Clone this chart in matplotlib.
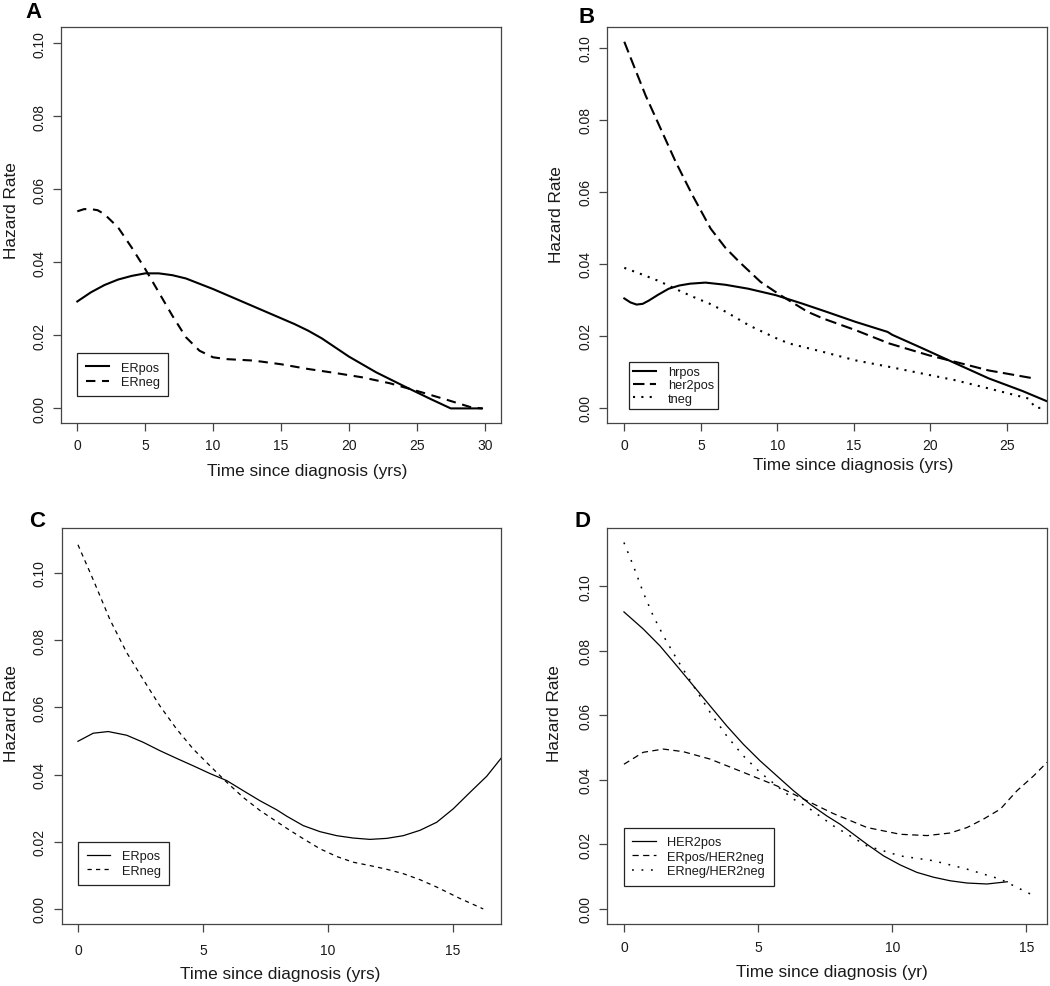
import numpy as np
import matplotlib
matplotlib.use("Agg")
import matplotlib.pyplot as plt

plt.rcParams['font.family'] = ['Liberation Sans', 'DejaVu Sans']

# ---- Panel A: ER status
a_erpos_t = [0, 1, 2, 3, 4, 5, 6, 7, 8, 10, 12, 14, 15, 16, 17, 18, 20, 22, 24, 25, 26, 27.5, 29.8]
a_erpos_h = [0.0293, 0.0318, 0.0338, 0.0353, 0.0363, 0.0370, 0.0370, 0.0365, 0.0356, 0.0327, 0.0295,
             0.0263, 0.0247, 0.0231, 0.0213, 0.0192, 0.0142, 0.0099, 0.0062, 0.0044, 0.0026, 0.0, 0.0]
a_erneg_t = [0, 0.5, 1, 1.5, 2, 3, 4, 5, 6, 7, 8, 9, 10, 11, 13, 15, 17, 19, 21, 23, 25, 27, 29, 29.8]
a_erneg_h = [0.0540, 0.0546, 0.0546, 0.0543, 0.0532, 0.0496, 0.0441, 0.0382, 0.0318, 0.0254, 0.0195,
             0.0158, 0.0140, 0.0135, 0.0131, 0.0121, 0.0108, 0.0097, 0.0085, 0.0069, 0.0048, 0.0026,
             0.0003, 0.0]

# ---- Panel B: hormone receptor / her2 / triple negative
b_hrpos_t = [0, 0.4, 0.8, 1.2, 1.6, 2.2, 2.9, 3.6, 4.3, 5.3, 6.6, 8.1, 9.9, 11.6, 13.2, 15.1, 17.2,
             17.5, 19.5, 21.2, 23.8, 26.0, 27.8]
b_hrpos_h = [0.0304, 0.0293, 0.0287, 0.0289, 0.0298, 0.0314, 0.0331, 0.0340, 0.0345, 0.0348, 0.0342,
             0.0331, 0.0313, 0.0290, 0.0267, 0.0239, 0.0211, 0.0203, 0.0165, 0.0132, 0.0082, 0.0047,
             0.0015]
b_her2_t = [0, 0.52, 1.39, 2.37, 3.36, 4.45, 5.64, 6.6, 7.5, 8.9, 10.2, 11.97, 13.0, 15.1, 17.3, 19.9,
            21.6, 23.8, 26.6]
b_her2_h = [0.1017, 0.0961, 0.0868, 0.0776, 0.0683, 0.0591, 0.0498, 0.0445, 0.0406, 0.0350, 0.0313,
            0.0267, 0.0248, 0.0216, 0.0179, 0.0146, 0.0128, 0.0104, 0.0083]
b_tneg_t = [0, 1.2, 2.28, 3.37, 4.46, 5.54, 6.63, 8.15, 10.0, 10.76, 12.94, 15.1, 17.3, 19.5, 21.6,
            23.8, 26.4, 26.86, 27.5]
b_tneg_h = [0.0389, 0.0370, 0.0352, 0.0330, 0.0309, 0.0290, 0.0267, 0.0229, 0.0192, 0.0179, 0.0156,
            0.0132, 0.0114, 0.0095, 0.0077, 0.0054, 0.0026, 0.0, 0.0]

# ---- Panel C: ER status (second cohort)
c_erpos_t = [0, 0.61, 1.21, 1.95, 2.61, 3.28, 3.95, 4.61, 5.28, 5.95, 6.61, 7.28, 7.95, 8.35, 9.01,
             9.68, 10.35, 11.01, 11.68, 12.35, 13.01, 13.68, 14.35, 15.01, 15.68, 16.35, 16.95]
c_erpos_h = [0.0499, 0.0523, 0.0528, 0.0517, 0.0496, 0.0471, 0.0448, 0.0426, 0.0403, 0.0382, 0.0352,
             0.0322, 0.0295, 0.0276, 0.0248, 0.0230, 0.0218, 0.0211, 0.0207, 0.0210, 0.0218, 0.0234,
             0.0258, 0.0298, 0.0347, 0.0395, 0.0451]
c_erneg_t = [0, 0.61, 1.28, 1.95, 2.61, 3.28, 3.95, 4.61, 5.28, 5.95, 6.61, 7.28, 8.35, 9.01, 9.68,
             10.35, 11.01, 11.68, 12.35, 13.01, 13.68, 14.35, 15.28, 16.21]
c_erneg_h = [0.1084, 0.0980, 0.0861, 0.0763, 0.0683, 0.0604, 0.0535, 0.0476, 0.0426, 0.0377, 0.0332,
             0.0293, 0.0240, 0.0209, 0.0179, 0.0156, 0.0139, 0.0129, 0.0118, 0.0105, 0.0087, 0.0065,
             0.0031, 0.0]

# ---- Panel D: HER2 subgroups
d_her2_t = [0, 0.72, 1.34, 1.97, 2.59, 3.21, 3.83, 4.45, 5.07, 5.7, 6.32, 6.94, 7.56, 8.06, 9.06,
            9.68, 10.3, 10.92, 11.54, 12.16, 12.79, 13.53, 14.29]
d_her2_h = [0.0920, 0.0867, 0.0815, 0.0753, 0.0691, 0.0629, 0.0567, 0.0510, 0.0459, 0.0412, 0.0366,
            0.0324, 0.0288, 0.0262, 0.0200, 0.0164, 0.0136, 0.0113, 0.0098, 0.0087, 0.0080, 0.0077,
            0.0084]
d_erpos_t = [0, 0.72, 1.47, 2.21, 3.21, 4.45, 5.7, 6.94, 7.81, 9.06, 10.3, 11.3, 12.16, 12.79, 13.4,
             14.03, 14.65, 15.27, 15.77]
d_erpos_h = [0.0448, 0.0485, 0.0495, 0.0487, 0.0464, 0.0423, 0.0381, 0.0330, 0.0295, 0.0252, 0.0231,
             0.0227, 0.0235, 0.0252, 0.0278, 0.0309, 0.0366, 0.0412, 0.0454]
d_erneg_t = [0, 0.35, 0.72, 1.09, 1.47, 1.97, 2.59, 3.21, 3.83, 4.45, 5.07, 5.7, 6.32, 6.94, 7.81,
             9.06, 10.3, 11.54, 12.79, 14.03, 15.15]
d_erneg_h = [0.1135, 0.1063, 0.0980, 0.0908, 0.0846, 0.0774, 0.0691, 0.0609, 0.0536, 0.0474, 0.0423,
             0.0381, 0.0340, 0.0309, 0.0257, 0.0195, 0.0164, 0.0149, 0.0123, 0.0092, 0.0046]

yticks = [0.0, 0.02, 0.04, 0.06, 0.08, 0.10]

FRAME = '#444444'
TXT = '#1a1a1a'
W, H = 1050, 987

fig = plt.figure(figsize=(W / 100, H / 100), dpi=100)


def make_axes(left, top, right, bottom):
    # pixel box -> figure fraction
    return fig.add_axes([left / W, 1 - bottom / H, (right - left) / W, (bottom - top) / H])


def style(ax, xlim, ylim, xticks, xlabel, xlab_pos, ylab_pos, xpad=5.0):
    ax.set_xlim(*xlim)
    ax.set_ylim(*ylim)
    ax.set_xticks(xticks)
    ax.set_yticks(yticks)
    ax.set_yticklabels([f'{v:.2f}' for v in yticks], rotation=90, va='center')
    for s in ax.spines.values():
        s.set_color(FRAME)
        s.set_linewidth(0.9)
    ax.tick_params(axis='both', direction='out', length=5.8, width=0.9, color=FRAME,
                   labelsize=10, labelcolor=TXT)
    ax.tick_params(axis='y', pad=5.0)
    ax.tick_params(axis='x', pad=xpad)
    ax.set_xlabel(xlabel, fontsize=12.4, color=TXT)
    ax.set_ylabel('Hazard Rate', fontsize=12.4, color=TXT)
    ax.xaxis.set_label_coords(*xlab_pos)
    ax.yaxis.set_label_coords(*ylab_pos)


def legend(ax, anchor, borderpad=0.65, spacing=0.2):
    leg = ax.legend(loc='upper left', bbox_to_anchor=anchor, borderaxespad=0, fontsize=9.2,
                    frameon=True, fancybox=False, framealpha=1, edgecolor='#222222',
                    borderpad=borderpad, handlelength=1.85, handletextpad=0.9, labelspacing=spacing)
    leg.get_frame().set_linewidth(0.9)
    for t in leg.get_texts():
        t.set_color(TXT)


# ---- A
axA = make_axes(61, 28, 501, 424)
axA.plot(a_erpos_t, a_erpos_h, color='black', lw=1.5, label='ERpos')
axA.plot(a_erneg_t, a_erneg_h, color='black', lw=1.5, ls=(0, (4.5, 3.2)), label='ERneg')
style(axA, (-1.2, 31.2), (-0.004, 0.1045), range(0, 31, 5), 'Time since diagnosis (yrs)',
      (0.559, -0.100), (-0.096, 0.538))
legend(axA, ((77.3 - 61) / 440, (424 - 354.3) / 396))

# ---- B
axB = make_axes(607.3, 28, 1047.3, 424)
axB.plot(b_hrpos_t, b_hrpos_h, color='black', lw=1.5, label='hrpos')
axB.plot(b_her2_t, b_her2_h, color='black', lw=1.5, ls=(0, (5.5, 2.6)), label='her2pos')
axB.plot(b_tneg_t, b_tneg_h, color='black', lw=1.5, ls=(0, (1, 3)), label='tneg')
style(axB, (-1.11, 27.63), (-0.0042, 0.1058), range(0, 26, 5), 'Time since diagnosis (yrs)',
      (0.559, -0.087), (-0.099, 0.529))
legend(axB, ((629 - 607.3) / 440, (424 - 363.3) / 396), borderpad=0.3, spacing=0.1)

# ---- C
axC = make_axes(61.7, 529.3, 501, 924.7)
axC.plot(c_erpos_t, c_erpos_h, color='black', lw=0.9, label='ERpos')
axC.plot(c_erneg_t, c_erneg_h, color='black', lw=0.9, ls=(0, (3.4, 3.4)), label='ERneg')
style(axC, (-0.65, 16.92), (-0.0044, 0.1133), range(0, 16, 5), 'Time since diagnosis (yrs)',
      (0.497, -0.106), (-0.098, 0.533), xpad=8.0)
legend(axC, ((78.3 - 61.7) / 439.3, (924.7 - 842.7) / 395.4))

# ---- D
axD = make_axes(607.3, 529.3, 1047.3, 924.7)
axD.plot(d_her2_t, d_her2_h, color='black', lw=0.9, label='HER2pos')
axD.plot(d_erpos_t, d_erpos_h, color='black', lw=0.9, ls=(0, (5, 3.5)), label='ERpos/HER2neg')
axD.plot(d_erneg_t, d_erneg_h, color='black', lw=1.1, ls=(0, (1.2, 5.0)), label='ERneg/HER2neg')
style(axD, (-0.62, 15.78), (-0.0046, 0.1179), range(0, 16, 5), 'Time since diagnosis (yr)',
      (0.51, -0.102), (-0.103, 0.533), xpad=5.8)
legend(axD, ((624 - 607.3) / 440, (924.7 - 829) / 395.4))

# panel letters
for letter, x, y in [('A', 25, 18), ('B', 578, 23), ('C', 29, 527), ('D', 575, 527)]:
    fig.text(x / W, 1 - y / H, letter, fontsize=16, fontweight='bold', color='black',
             ha='left', va='baseline')

fig.savefig('out.png', dpi=100)
